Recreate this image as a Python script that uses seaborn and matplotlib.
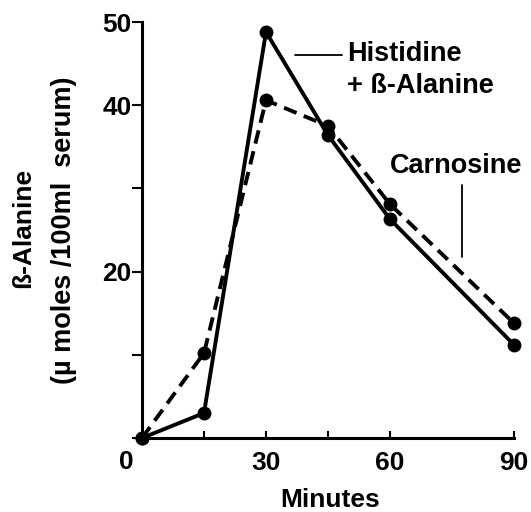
import matplotlib
matplotlib.use('Agg')
import matplotlib.pyplot as plt
import pandas as pd
import seaborn as sns

# Values
minutes = [0, 15, 30, 45, 60, 90]
histidine_alanine = [0, 3, 48.8, 36.4, 26.3, 11.2]
carnosine = [0, 10.2, 40.6, 37.5, 28.1, 13.8]
series_names = ['Histidine + ß-Alanine', 'Carnosine']

x_ticks = [0, 15, 30, 45, 60, 90]
x_tick_labels = ['', '', '30', '', '60', '90']
y_ticks = [0, 10, 20, 30, 40, 50]
y_tick_labels = ['', '', '20', '', '40', '50']

sns.set_style('ticks')
plt.rcParams['font.family'] = ['Liberation Sans', 'DejaVu Sans']
plt.rcParams['font.weight'] = 'bold'
plt.rcParams['text.color'] = 'black'

df = pd.DataFrame({
    'Minutes': minutes * 2,
    'value': histidine_alanine + carnosine,
    'series': [series_names[0]] * len(minutes) + [series_names[1]] * len(minutes),
})

fig = plt.figure(figsize=(5.31, 5.12), dpi=100)
ax = fig.add_axes([142 / 531, 74 / 512, 372 / 531, 416 / 512])

sns.lineplot(
    data=df, x='Minutes', y='value', hue='series', style='series',
    palette={series_names[0]: 'black', series_names[1]: 'black'},
    dashes={series_names[0]: '', series_names[1]: (3.5, 2)},
    markers={series_names[0]: 'o', series_names[1]: 'o'},
    markersize=10, markeredgewidth=0, linewidth=2.8,
    legend=False, ax=ax,
)
for line in ax.lines:
    line.set_clip_on(False)

ax.set_xlim(0, 90)
ax.set_ylim(0, 50)
ax.set_xticks(x_ticks)
ax.set_xticklabels(x_tick_labels)
ax.set_yticks(y_ticks)
ax.set_yticklabels(y_tick_labels)
ax.set_xlabel('')
ax.set_ylabel('')

for side in ['top', 'right']:
    ax.spines[side].set_visible(False)
for side in ['left', 'bottom']:
    ax.spines[side].set_linewidth(2.2)
    ax.spines[side].set_color('black')

ax.tick_params(axis='y', direction='out', length=7, width=1.5, pad=0.5,
               labelsize=19, colors='black')
ax.tick_params(axis='x', direction='in', length=5, width=1.5, pad=9,
               labelsize=19, colors='black')

# origin label sits left of the corner
ax.text(-3.9, -1.4, '0', ha='center', va='top', fontsize=19, fontweight='bold')

# curve labels
ax.text(49.6, 46.2, 'Histidine', ha='left', va='center', fontsize=19.5, fontweight='bold')
ax.text(49.6, 42.3, '+ ß-Alanine', ha='left', va='center', fontsize=19.5, fontweight='bold')
ax.plot([37.0, 48.4], [46.0, 46.0], color='black', lw=1.3)
ax.text(60.0, 32.7, 'Carnosine', ha='left', va='center', fontsize=19.5, fontweight='bold')
ax.plot([77.4, 77.4], [30.4, 21.8], color='black', lw=1.3)

fig.text(23 / 531, 1 - 228 / 512, 'ß-Alanine', rotation=90, ha='center', va='center',
         fontsize=19, fontweight='bold')
fig.text(64 / 531, 1 - 230 / 512, '(µ moles /100ml  serum)', rotation=90, ha='center',
         va='center', fontsize=19.5, fontweight='bold')
fig.text(330 / 531, 1 - 500 / 512, 'Minutes', ha='center', va='center',
         fontsize=19, fontweight='bold')

fig.savefig('out.png', dpi=100)
